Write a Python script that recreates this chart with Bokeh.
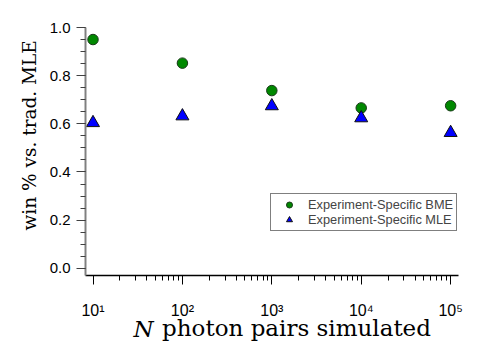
import numpy as np
from bokeh.plotting import figure
from bokeh.models import (Range1d, FixedTicker, SingleIntervalTicker, PrintfTickFormatter,
                          Legend, LegendItem, Title, LinearAxis, LinearScale)
from bokeh.embed import file_html
from bokeh.resources import INLINE

# ---- data ----
n_pairs = [1e1, 1e2, 1e3, 1e4, 1e5]
win_bme = [0.950, 0.852, 0.738, 0.666, 0.675]
win_mle = [0.604, 0.632, 0.674, 0.624, 0.563]
x_tick_vals = [10, 100, 1000, 10000, 100000]
x_tick_labels = ["10\u00b9", "10\u00b2", "10\u00b3", "10\u2074", "10\u2075"]
series_names = ["Experiment-Specific BME", "Experiment-Specific MLE"]
y_title = "win % vs. trad. MLE"
x_title_var = "N"
x_title_rest = "photon pairs simulated"

W, H = 498, 346
FL, FR = 85, 458  # frame left / right in px
XMIN_LOG, XMAX_LOG = 0.916, 5.088
YMIN, YMAX = -0.03, 1.0

p = figure(width=W, height=H, output_backend="svg", toolbar_location=None,
           x_axis_type="log",
           x_range=Range1d(10 ** XMIN_LOG, 10 ** XMAX_LOG),
           y_range=Range1d(YMIN, YMAX),
           min_border_left=FL, min_border_right=W - FR,
           min_border_top=27, min_border_bottom=71)
p.outline_line_color = None
p.grid.visible = False

# x axis
minor = [m * 10 ** e for e in range(1, 5) for m in range(2, 10)]
xa = p.xaxis[0]
xa.ticker = FixedTicker(ticks=x_tick_vals, minor_ticks=minor)
xa.major_label_overrides = {v: s for v, s in zip(x_tick_vals, x_tick_labels)}
xa.axis_line_color = "black"
xa.axis_line_width = 1.5
xa.major_tick_line_color = "black"
xa.minor_tick_line_color = "black"
xa.major_tick_out = 9
xa.major_tick_in = 0
xa.minor_tick_out = 5
xa.minor_tick_in = 0
xa.major_label_text_font = "Liberation Sans"
xa.major_label_text_font_size = "16px"
xa.major_label_text_color = "black"
xa.major_label_standoff = 17

# y axis
ya = p.yaxis[0]
ya.ticker = SingleIntervalTicker(interval=0.2, num_minor_ticks=4)
ya.formatter = PrintfTickFormatter(format="%.1f")
ya.axis_line_color = "#808080"
ya.axis_line_width = 2
ya.major_tick_line_color = "#404040"
ya.minor_tick_line_color = "#404040"
ya.major_tick_out = 9
ya.major_tick_in = 0
ya.minor_tick_out = 5
ya.minor_tick_in = 0
ya.major_label_text_font = "Liberation Sans"
ya.major_label_text_font_size = "15px"
ya.major_label_text_color = "black"
ya.major_label_standoff = 6

r1 = p.scatter(n_pairs, win_bme, marker="circle", size=10.5,
               fill_color="#008800", line_color="#1a3a1a", line_width=1)
r2 = p.scatter(n_pairs, win_mle, marker="triangle", size=13,
               fill_color="#0000ff", line_color="#101010", line_width=1)

legend = Legend(items=[LegendItem(label=series_names[0], renderers=[r1]),
                       LegendItem(label=series_names[1], renderers=[r2])],
                location=(185, 44))
legend.border_line_color = "black"
legend.border_line_width = 1
legend.background_fill_color = "white"
legend.background_fill_alpha = 1
legend.padding = 3
legend.spacing = 0
legend.margin = 0
legend.glyph_width = 30
legend.glyph_height = 15
legend.label_height = 15
legend.label_standoff = 4
legend.label_text_font = "Liberation Sans"
legend.label_text_font_size = "12.8px"
legend.label_text_baseline = "middle"
p.add_layout(legend, "center")

# y title
p.add_layout(Title(text=y_title, align="left", offset=45, standoff=14,
                   vertical_align="bottom",
                   text_font="DejaVu Serif", text_font_size="18.5px",
                   text_font_style="normal", text_color="black"), "left")

# x title: two text-only axes in a helper pixel range that spans the frame
p.extra_x_ranges = {"title": Range1d(FL, FR)}
p.extra_x_scales = {"title": LinearScale()}
def title_axis(text, center_px, style, standoff):
    ax = LinearAxis(x_range_name="title",
                    ticker=FixedTicker(ticks=[center_px], minor_ticks=[]),
                    major_label_overrides={center_px: text})
    ax.axis_line_color = None
    ax.major_tick_line_color = None
    ax.minor_tick_line_color = None
    ax.major_tick_out = 0
    ax.major_tick_in = 0
    ax.minor_tick_out = 0
    ax.minor_tick_in = 0
    ax.major_label_standoff = standoff
    ax.major_label_text_font = "DejaVu Serif"
    ax.major_label_text_font_size = "23px"
    ax.major_label_text_font_style = style
    ax.major_label_text_color = "black"
    return ax

p.add_layout(title_axis(x_title_var, 143, "italic", -6), "below")
p.add_layout(title_axis(x_title_rest, 296, "normal", -30), "below")

open("out.html", "w").write(file_html(p, INLINE))
